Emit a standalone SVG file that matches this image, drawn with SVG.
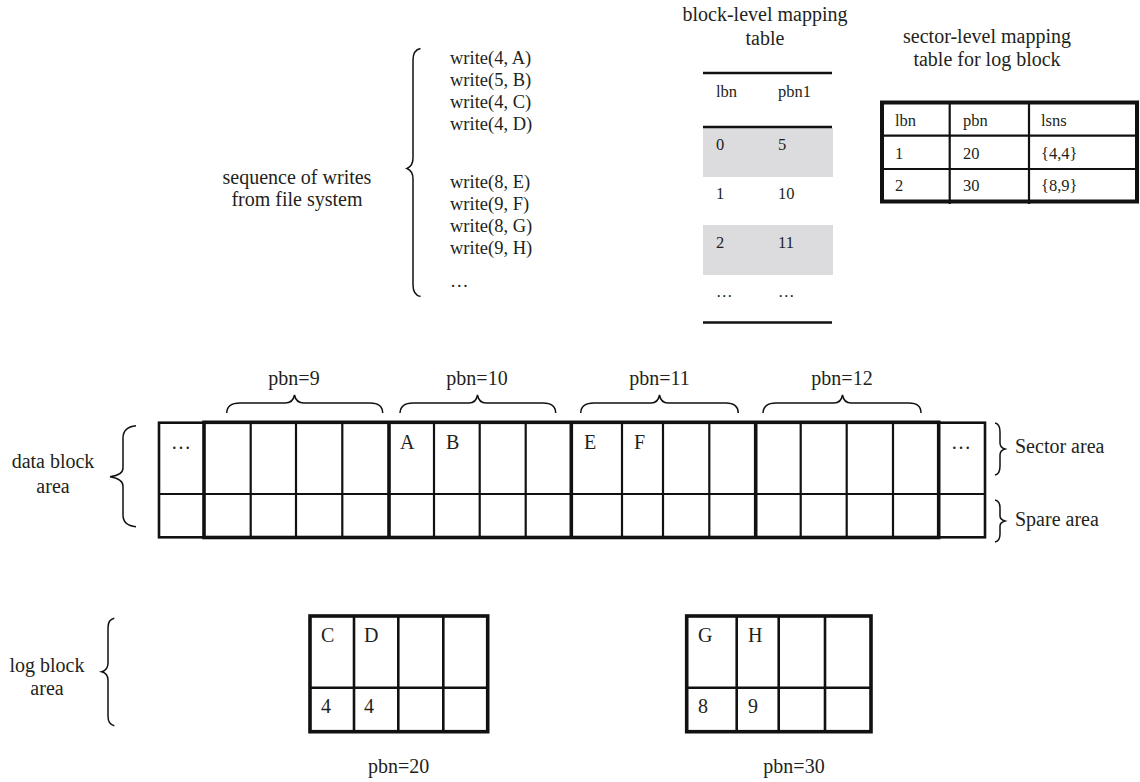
<svg xmlns="http://www.w3.org/2000/svg" width="1140" height="782" viewBox="0 0 1140 782">
<style>
text{font-family:"Liberation Serif","Times New Roman",serif;fill:#231f20}
.t20{font-size:20px}
.t18{font-size:18.5px}
.t16{font-size:16.5px}
.mid{text-anchor:middle}
.thin{stroke:#111;stroke-width:2.2;fill:none}
.thick{stroke:#111;stroke-width:3.6;fill:none}
.brace{stroke:#111;stroke-width:1.5;fill:none}
.gray{fill:#dcdcde}
</style>
<rect width="1140" height="782" fill="#fff"/>

<g id="writes">
<text class="t20 mid" x="297" y="184">sequence of writes</text>
<text class="t20 mid" x="297" y="206">from file system</text>
<path class="brace" d="M420.5,48.5 Q413,50 413,60 L413,158 Q413,166 407,168.5 Q413,171 413,179 L413,285 Q413,295 420.5,296.5"/>
<text class="t18" x="450" y="64">write(4, A)</text>
<text class="t18" x="450" y="86">write(5, B)</text>
<text class="t18" x="450" y="108">write(4, C)</text>
<text class="t18" x="450" y="130">write(4, D)</text>
<text class="t18" x="450" y="188">write(8, E)</text>
<text class="t18" x="450" y="210">write(9, F)</text>
<text class="t18" x="450" y="232">write(8, G)</text>
<text class="t18" x="450" y="254">write(9, H)</text>
<text class="t18" x="450" y="287">…</text>
</g>

<g id="block-table">
<text class="t20 mid" x="765" y="21">block-level mapping</text>
<text class="t20 mid" x="765" y="45">table</text>
<rect class="gray" x="703" y="128" width="130" height="49"/>
<rect class="gray" x="703" y="225" width="130" height="50"/>
<line class="thin" x1="703" y1="73" x2="832" y2="73" style="stroke-width:2.6"/>
<line class="thin" x1="703" y1="127" x2="832" y2="127" style="stroke-width:2.6"/>
<line class="thin" x1="703" y1="322.5" x2="832" y2="322.5" style="stroke-width:2.6"/>
<text class="t16" x="716" y="97">lbn</text>
<text class="t16" x="778" y="97">pbn1</text>
<text class="t16" x="716" y="150">0</text>
<text class="t16" x="778" y="150">5</text>
<text class="t16" x="716" y="198.5">1</text>
<text class="t16" x="778" y="198.5">10</text>
<text class="t16" x="716" y="248">2</text>
<text class="t16" x="778" y="248">11</text>
<text class="t16" x="716" y="297">…</text>
<text class="t16" x="778" y="297">…</text>
</g>

<g id="sector-table">
<text class="t20 mid" x="987" y="42.5">sector-level mapping</text>
<text class="t20 mid" x="987" y="66">table for log block</text>
<line class="thin" x1="882" y1="135.7" x2="1137" y2="135.7"/>
<line class="thin" x1="882" y1="169" x2="1137" y2="169"/>
<line class="thin" x1="949.7" y1="102" x2="949.7" y2="204"/>
<line class="thin" x1="1029" y1="102" x2="1029" y2="204"/>
<rect x="882" y="102.5" width="255" height="99" style="stroke:#111;stroke-width:4;fill:none"/>
<text class="t16" x="895" y="126">lbn</text>
<text class="t16" x="963" y="126">pbn</text>
<text class="t16" x="1041" y="126">lsns</text>
<text class="t16" x="895" y="159">1</text>
<text class="t16" x="963" y="159">20</text>
<text class="t16" x="1041" y="159">{4,4}</text>
<text class="t16" x="895" y="191">2</text>
<text class="t16" x="963" y="191">30</text>
<text class="t16" x="1041" y="191">{8,9}</text>
</g>

<g id="data-block-area">
<text class="t20 mid" x="53" y="468">data block</text>
<text class="t20 mid" x="53" y="493">area</text>
<path class="brace" d="M136,425.7 Q123,427 123,438 L123,468 Q123,475 110,476.7 Q123,479 123,486 L123,515 Q123,525.5 136,526.7"/>
</g>

<g id="data-grid">
<rect class="thin" x="159" y="422.7" width="826" height="114.6" style="stroke-width:2.6"/>
<line class="thin" x1="159" y1="494" x2="985" y2="494"/>
<g class="thin">
<line x1="250.7" y1="422" x2="250.7" y2="537"/>
<line x1="296" y1="422" x2="296" y2="537"/>
<line x1="342.3" y1="422" x2="342.3" y2="537"/>
<line x1="434" y1="422" x2="434" y2="537"/>
<line x1="479.7" y1="422" x2="479.7" y2="537"/>
<line x1="525.7" y1="422" x2="525.7" y2="537"/>
<line x1="622" y1="422" x2="622" y2="537"/>
<line x1="663" y1="422" x2="663" y2="537"/>
<line x1="709.3" y1="422" x2="709.3" y2="537"/>
<line x1="800.7" y1="422" x2="800.7" y2="537"/>
<line x1="846.7" y1="422" x2="846.7" y2="537"/>
<line x1="893" y1="422" x2="893" y2="537"/>
</g>
<rect class="thick" x="204" y="422.3" width="734.7" height="115.2"/>
<g class="thick">
<line x1="389" y1="422" x2="389" y2="538"/>
<line x1="571.3" y1="422" x2="571.3" y2="538"/>
<line x1="755.7" y1="422" x2="755.7" y2="538"/>
</g>
<text class="t20" x="171" y="449">…</text>
<text class="t20" x="400" y="449">A</text>
<text class="t20" x="446" y="449">B</text>
<text class="t20" x="584" y="449">E</text>
<text class="t20" x="634" y="449">F</text>
<text class="t20" x="951" y="449">…</text>
</g>

<g id="pbn-labels">
<text class="t20 mid" x="294" y="385">pbn=9</text>
<path class="brace" d="M226.7,413 Q227,403 240,403 L285,403 Q293,403 294.5,395 Q296,403 304,403 L370,403 Q382.5,403 382.7,413"/>
<text class="t20 mid" x="477" y="385">pbn=10</text>
<path class="brace" d="M400,413 Q400.5,403 413,403 L469,403 Q476,403 477.5,395 Q479,403 486,403 L543,403 Q555.5,403 555.7,413"/>
<text class="t20 mid" x="659.5" y="385">pbn=11</text>
<path class="brace" d="M580.7,413 Q581,403 594,403 L651,403 Q658,403 659.5,395 Q661,403 668,403 L726,403 Q738,403 738.3,413"/>
<text class="t20 mid" x="842" y="385">pbn=12</text>
<path class="brace" d="M763,413 Q763.5,403 776,403 L834,403 Q841,403 842.5,395 Q844,403 851,403 L909,403 Q921,403 921,413"/>
</g>

<g id="area-labels">
<path class="brace" d="M995,423 Q1000,424 1000,432 L1000,443 Q1000,447.5 1005,449 Q1000,450.5 1000,455 L1000,466 Q1000,474 995,475"/>
<text class="t20" x="1015" y="453">Sector area</text>
<path class="brace" d="M995,500 Q1000,501 1000,508 L1000,516 Q1000,519.5 1005,521 Q1000,522.5 1000,526 L1000,534 Q1000,541 995,542"/>
<text class="t20" x="1015" y="526">Spare area</text>
</g>

<g id="log-block-area">
<text class="t20 mid" x="47" y="671.7">log block</text>
<text class="t20 mid" x="47" y="695">area</text>
<path class="brace" d="M114.3,618.3 Q108,619.5 108,628 L108,663 Q108,670 101.7,671.7 Q108,673.5 108,680 L108,716 Q108,724.5 114.3,725.7"/>
</g>

<g id="log-block-20">
<g class="thin" style="stroke-width:2.6">
<line x1="310" y1="687.7" x2="487.7" y2="687.7"/>
<line x1="354" y1="616" x2="354" y2="731.7"/>
<line x1="398.3" y1="616" x2="398.3" y2="731.7"/>
<line x1="443.3" y1="616" x2="443.3" y2="731.7"/>
</g>
<rect class="thick" x="310" y="616" width="177.7" height="115.7"/>
<text class="t20" x="321" y="641.7">C</text>
<text class="t20" x="364" y="641.7">D</text>
<text class="t20" x="321" y="713">4</text>
<text class="t20" x="364" y="713">4</text>
<text class="t20 mid" x="398.7" y="773">pbn=20</text>
</g>

<g id="log-block-30">
<g class="thin" style="stroke-width:2.6">
<line x1="686.7" y1="687.7" x2="871" y2="687.7"/>
<line x1="736.7" y1="616" x2="736.7" y2="731.7"/>
<line x1="778.7" y1="616" x2="778.7" y2="731.7"/>
<line x1="825" y1="616" x2="825" y2="731.7"/>
</g>
<rect class="thick" x="686.7" y="616" width="184.3" height="115.7"/>
<text class="t20" x="698" y="641.7">G</text>
<text class="t20" x="748" y="641.7">H</text>
<text class="t20" x="698" y="713">8</text>
<text class="t20" x="748" y="713">9</text>
<text class="t20 mid" x="794" y="773">pbn=30</text>
</g>
</svg>
